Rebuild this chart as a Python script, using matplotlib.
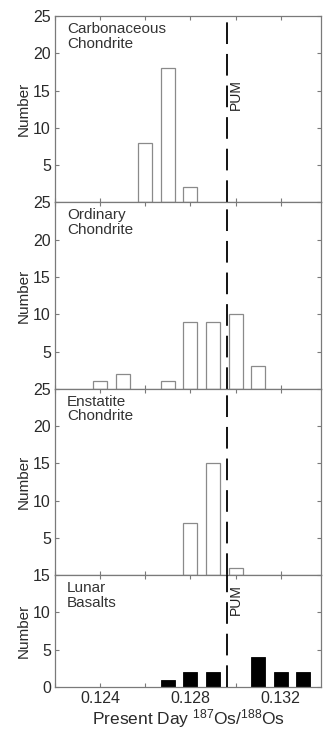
import matplotlib
matplotlib.use("Agg")
import matplotlib.pyplot as plt
import numpy as np

plt.rcParams['font.family'] = ['Liberation Sans', 'DejaVu Sans']
plt.rcParams['mathtext.fontset'] = 'custom'
plt.rcParams['mathtext.rm'] = 'Liberation Sans'
plt.rcParams['mathtext.it'] = 'Liberation Sans'
plt.rcParams['mathtext.bf'] = 'Liberation Sans'

# Data (bin centres of 187Os/188Os and counts)
carb_x = [0.126, 0.127, 0.128]
carb_n = [8, 18, 2]
ord_x = [0.124, 0.125, 0.127, 0.128, 0.129, 0.130, 0.131]
ord_n = [1, 2, 1, 9, 9, 10, 3]
ens_x = [0.128, 0.129, 0.130]
ens_n = [7, 15, 1]
lun_x = [0.127, 0.128, 0.129, 0.131, 0.132, 0.133]
lun_n = [1, 2, 2, 4, 2, 2]
pum = 0.1296

panel_labels = ["Carbonaceous\nChondrite", "Ordinary\nChondrite",
                "Enstatite\nChondrite", "Lunar\nBasalts"]
xticks = [0.122, 0.124, 0.126, 0.128, 0.130, 0.132]
xticklabels = ["", "0.124", "", "0.128", "", "0.132"]

fig = plt.figure(figsize=(3.23, 7.30), dpi=100)
left, right, top, bottom = 55/323, 321/323, 1 - 16/730, 1 - 687/730
ratios = [25, 25, 25, 15]
gs = fig.add_gridspec(4, 1, height_ratios=ratios, hspace=0,
                      left=left, right=right, top=top, bottom=bottom)

datasets = [(carb_x, carb_n, False), (ord_x, ord_n, False),
            (ens_x, ens_n, False), (lun_x, lun_n, True)]
spine_c = '#7a7a7a'
txt_c = '#2a2a2a'
bw = 0.00062
for i, ((xs, ns, filled), lab, ymax) in enumerate(zip(datasets, panel_labels, ratios)):
    ax = fig.add_subplot(gs[i])
    if filled:
        ax.bar(xs, ns, width=bw, color='black', edgecolor='black', linewidth=0.6, zorder=2)
    else:
        ax.bar(xs, ns, width=bw, facecolor='white', edgecolor='#8a8a8a', linewidth=0.9, zorder=2)
    ax.axvline(pum, color='black', lw=1.3, linestyle=(0, (12, 5.5)), zorder=3)
    ax.set_xlim(0.122, 0.13378)
    ax.set_ylim(0, ymax)
    if i < 3:
        ax.set_yticks([5, 10, 15, 20, 25])
    else:
        ax.set_yticks([0, 5, 10, 15])
    ax.set_xticks(xticks)
    if i == 3:
        ax.set_xticklabels(xticklabels, fontsize=11.5)
        ax.set_xlabel(r"Present Day $^{\mathregular{187}}$Os/$^{\mathregular{188}}$Os",
                      fontsize=12.5, labelpad=1, color=txt_c)
    else:
        ax.set_xticklabels([])
    ax.tick_params(axis='both', direction='in', length=3, width=0.8, color=spine_c,
                   top=True, right=True, labelsize=11.5, pad=3, labelcolor=txt_c)
    for s in ax.spines.values():
        s.set_color(spine_c)
        s.set_linewidth(0.9)
    ax.set_ylabel("Number", fontsize=11, labelpad=2, color=txt_c)
    h_px = ymax * 671 / 90
    ax.text(12/266, 1 - 6/h_px, lab, transform=ax.transAxes, ha='left', va='top',
            fontsize=11, color='#333333', linespacing=1.05)
    if i == 0:
        ax.text(pum + 0.00012, 14.5, "PUM", rotation=90, ha='left', va='center',
                fontsize=10, color='#222222')
    if i == 3:
        ax.text(pum + 0.00012, 11.7, "PUM", rotation=90, ha='left', va='center',
                fontsize=10, color='#222222')

fig.savefig("out.png", dpi=100)
